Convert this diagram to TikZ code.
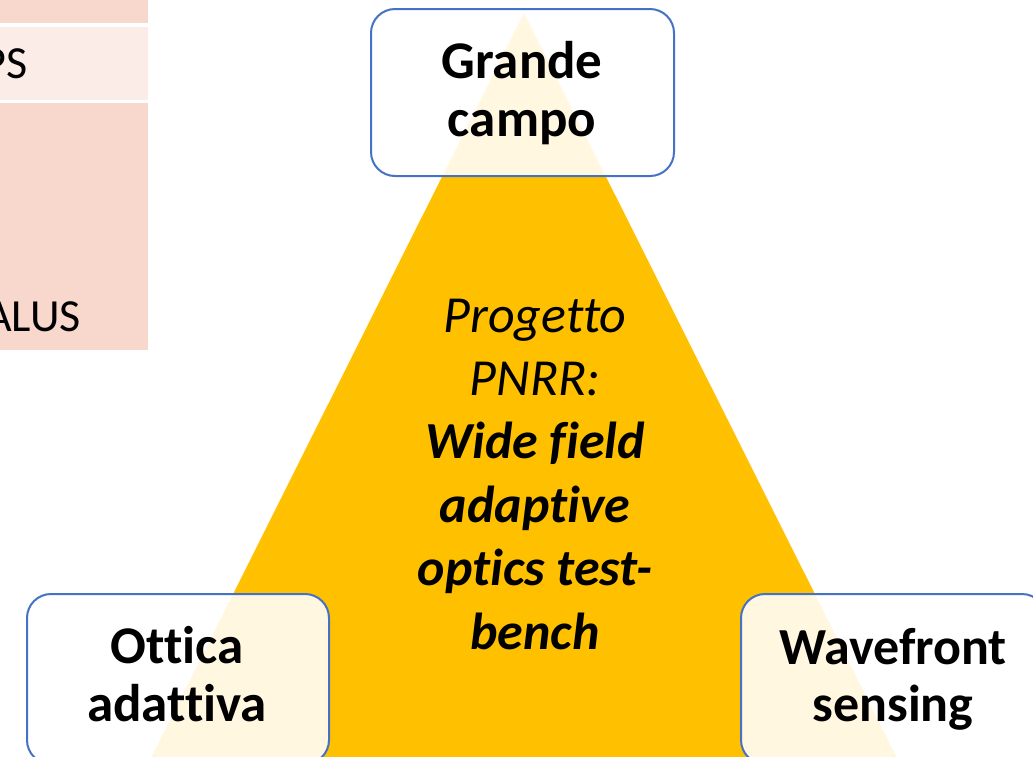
\documentclass[tikz,border=0pt]{standalone}
\usepackage{fontspec}
\setmainfont{Carlito}[Ligatures=NoCommon]
\definecolor{gold}{HTML}{FFC000}
\definecolor{boxblue}{HTML}{4472C4}
\definecolor{celldark}{HTML}{F8D7CD}
\definecolor{celllight}{HTML}{FCECE8}
\begin{document}
\begin{tikzpicture}[x=1pt,y=-1pt,
  topic/.style={draw=boxblue,line width=2pt,rounded corners=24pt,fill=white,
    fill opacity=0.88,inner sep=0,anchor=north west},
  topictext/.style={font=\fontsize{53}{58}\selectfont\bfseries,align=center,
    text=black,inner sep=0},
  celltext/.style={font=\fontsize{46}{50}\selectfont,inner sep=0,anchor=base east},
  centretext/.style={font=\fontsize{52}{63.4}\selectfont\itshape,align=center,
    text=black,inner sep=0}]
\useasboundingbox (0,0) rectangle (1033,756);
\clip (0,0) rectangle (1033,756);

% table fragment on the left
\fill[celldark] (-5,-5) rectangle (148,23);
\fill[celllight] (-5,27) rectangle (148,100);
\fill[celldark] (-5,103) rectangle (148,350);
\node[celltext] (ps) at (28,78) {PS};
\node[celltext] (alus) at (81,331) {ALUS};

% central triangle
\fill[gold] (524,13) -- (145,770) -- (903,770) -- cycle;

% corner boxes
\node[topic,minimum width=303pt,minimum height=167pt] (gcbox) at (370,8) {};
\node[topic,minimum width=302pt,minimum height=170pt] (oabox) at (26,593) {};
\node[topic,minimum width=305pt,minimum height=170pt] (wsbox) at (740,593) {};

\node[topictext] (gc) at (522,93) {Grande\\campo};
\node[topictext] (oa) at (177,674) {Ottica\\adattiva};
\node[topictext,font=\fontsize{52}{57}\selectfont\bfseries] (ws) at (893,679) {Wavefront\\sensing};

% project title
\node[centretext] (proj) at (535,474)
  {Progetto\\PNRR:\\\textbf{Wide field}\\\textbf{adaptive}\\\textbf{optics test-}\\\textbf{bench}};
\end{tikzpicture}
\end{document}
